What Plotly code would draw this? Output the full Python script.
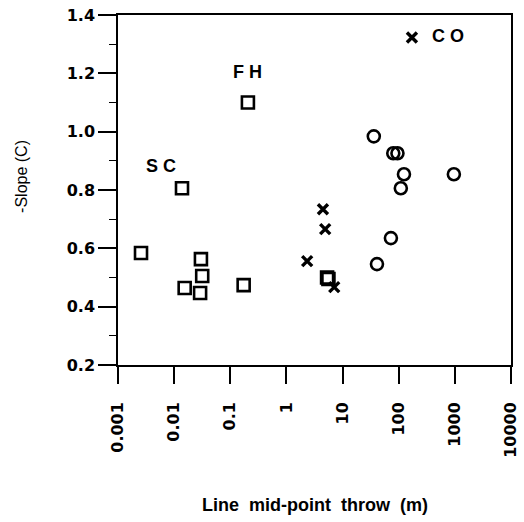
import math
import plotly.graph_objects as go

# ---- data ----
sq_x = [0.0138, 0.206, 0.00257, 0.030, 0.0316, 0.0154, 0.029, 0.173, 5.3, 5.6]
sq_y = [0.806, 1.10, 0.584, 0.563, 0.505, 0.464, 0.447, 0.474, 0.50, 0.495]

cr_x = [172, 4.47, 4.9, 2.34, 7.1]
cr_y = [1.323, 0.734, 0.666, 0.556, 0.467]

ci_x = [36, 80, 95, 124, 960, 109, 72.6, 41]
ci_y = [0.984, 0.926, 0.926, 0.854, 0.854, 0.806, 0.635, 0.546]

label_text = ["S C", "F H", "C O"]
label_x = [0.00583, 0.206, 754]
label_y = [0.882, 1.203, 1.327]

x_tickvals = [0.001, 0.01, 0.1, 1, 10, 100, 1000, 10000]
x_ticktext = ["0.001", "0.01", "0.1", "1", "10", "100", "1000", "10000"]
y_tickvals = [0.2, 0.4, 0.6, 0.8, 1.0, 1.2, 1.4]
y_ticktext = ["0.2", "0.4", "0.6", "0.8", "1.0", "1.2", "1.4"]

FONT = "Liberation Sans, Arial, sans-serif"
TICKFONT = "DejaVu Sans, sans-serif"

fig = go.Figure()
fig.add_trace(go.Scatter(x=sq_x, y=sq_y, mode="markers",
                         marker=dict(symbol="square-open", size=12, color="black",
                                     line=dict(width=2.6, color="black"))))
fig.add_trace(go.Scatter(x=cr_x, y=cr_y, mode="markers",
                         marker=dict(symbol="x-thin-open", size=10, color="black",
                                     line=dict(width=3.4, color="black"))))
fig.add_trace(go.Scatter(x=ci_x, y=ci_y, mode="markers",
                         marker=dict(symbol="circle-open", size=12, color="black",
                                     line=dict(width=2.6, color="black"))))

for t, lx, ly in zip(label_text, label_x, label_y):
    fig.add_annotation(x=math.log10(lx), y=ly, text=t, showarrow=False,
                       xref="x", yref="y",
                       font=dict(family=FONT, size=18, color="black", weight="bold"))

fig.add_annotation(text="-Slope (C)", xref="paper", yref="paper", x=-0.247, y=0.54,
                   textangle=-90, showarrow=False, xanchor="center", yanchor="middle",
                   font=dict(family=FONT, size=16, color="black"))
fig.add_annotation(text="Line  mid-point  throw  (m)", xref="paper", yref="paper",
                   x=0.5, y=-0.40, showarrow=False, xanchor="center", yanchor="middle",
                   font=dict(family=FONT, size=18, color="black", weight="bold"))

fig.update_xaxes(type="log", range=[-3, 4], tickvals=x_tickvals, ticktext=x_ticktext,
                 tickangle=-90, ticks="outside", ticklen=17, tickwidth=1.5, tickcolor="black",
                 showline=True, linecolor="black", linewidth=1.5, mirror=True,
                 showgrid=False, zeroline=False, ticklabelstandoff=12, automargin=False,
                 ticklabeloverflow="allow",
                 tickfont=dict(family=TICKFONT, size=16, color="black", weight="bold"))
fig.update_yaxes(range=[0.2, 1.4], tickvals=y_tickvals, ticktext=y_ticktext,
                 ticks="outside", ticklen=18, tickwidth=1.5, tickcolor="black",
                 minor=dict(dtick=0.1, tick0=0.3, ticks="outside", ticklen=7, tickcolor="black",
                            tickwidth=1, showgrid=False),
                 showline=True, linecolor="black", linewidth=1.5, mirror=True,
                 showgrid=False, zeroline=False, automargin=False,
                 ticklabeloverflow="allow",
                 tickfont=dict(family=TICKFONT, size=16, color="black", weight="bold"))

fig.update_layout(width=524, height=522, showlegend=False,
                  margin=dict(l=118, r=13, t=15, b=157, pad=0),
                  plot_bgcolor="white", paper_bgcolor="white")

# remove the browser's default page margin so the figure fills the window exactly
fig.write_html("out.html", config={"displayModeBar": False},
               post_script="document.body.style.margin='0px';document.body.style.overflow='hidden';")
